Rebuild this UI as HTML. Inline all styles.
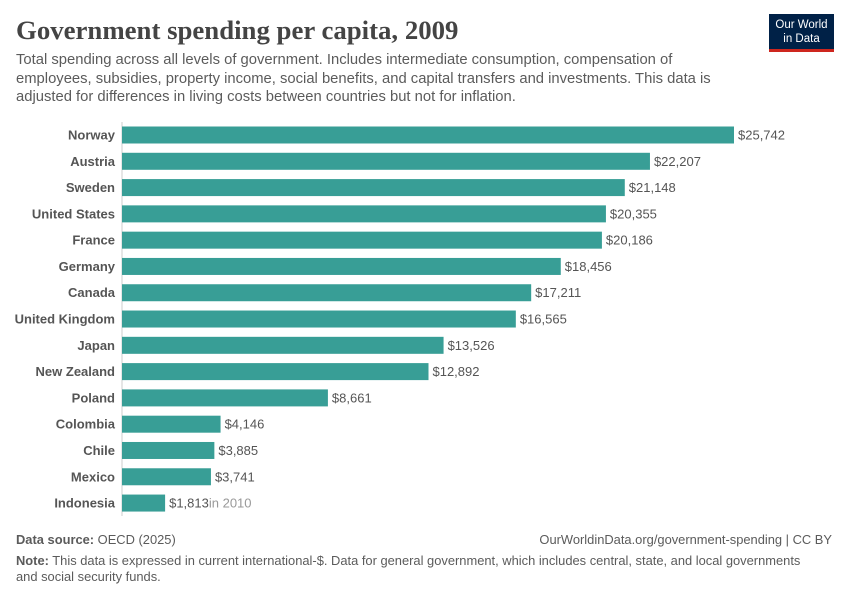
<!DOCTYPE html>
<html><head><meta charset="utf-8"><style>
body{margin:0;background:#fff;font-family:"Liberation Sans",sans-serif;}
#c{position:relative;width:850px;height:600px;overflow:hidden}
.t{position:absolute;white-space:nowrap}
</style></head><body>
<div id="c">
<div class="t" style="left:16px;top:15px;font-family:'Liberation Serif',serif;font-size:26.8px;font-weight:bold;color:#444">Government spending per capita, 2009</div>
<div class="t" style="left:16px;top:51px;font-size:14.8px;line-height:18.5px;color:#5b5b5b">Total spending across all levels of government. Includes intermediate consumption, compensation of<br>employees, subsidies, property income, social benefits, and capital transfers and investments. This data is<br>adjusted for differences in living costs between countries but not for inflation.</div>
<div style="position:absolute;left:769px;top:14px;width:65px;height:38px;background:#002147;border-bottom:3px solid #ce261e;box-sizing:border-box;color:#fff;font-size:11.5px;line-height:14px;text-align:center;padding-top:4px">Our World<br>in Data</div>
<svg id="s" width="850" height="600" style="position:absolute;left:0;top:0"></svg>
<div class="t" style="left:16px;top:532px;font-size:12.9px;color:#5b5b5b"><b>Data source:</b> OECD (2025)</div>
<div class="t" style="right:18px;top:532px;font-size:12.9px;color:#5b5b5b">OurWorldinData.org/government-spending | CC BY</div>
<div class="t" style="left:16px;top:553px;font-size:12.9px;line-height:16px;color:#5b5b5b"><b>Note:</b> This data is expressed in current international-$. Data for general government, which includes central, state, and local governments<br>and social security funds.</div>
</div>
<script>
const countries=["Norway","Austria","Sweden","United States","France","Germany","Canada","United Kingdom","Japan","New Zealand","Poland","Colombia","Chile","Mexico","Indonesia"];
const values=[25742,22207,21148,20355,20186,18456,17211,16565,13526,12892,8661,4146,3885,3741,1813];
const notes=["","","","","","","","","","","","","","","in 2010"];
const svg=document.getElementById('s');const NS='http://www.w3.org/2000/svg';
const x0=122,xs=v=>x0+v*612/25742,yc=i=>135+i*26.29;
function mk(t,a){const e=document.createElementNS(NS,t);for(const k in a)e.setAttribute(k,a[k]);svg.appendChild(e);return e;}
const ax=mk('line',{x1:x0,x2:x0,y1:122,y2:516,stroke:'#ccc'});


countries.forEach((c,i)=>{
 const y=yc(i);
 const r=mk('rect',{x:x0,y:y-8.5,width:xs(values[i])-x0,height:17,fill:'#389e96'});
 
 
 const l=mk('text',{x:x0-7,y:y+4.5,'text-anchor':'end','font-size':13,'font-weight':'bold',fill:'#555','font-family':'Liberation Sans,sans-serif'});
 l.textContent=c;
 
 
 const v=mk('text',{x:xs(values[i])+4,y:y+4.5,'font-size':13,fill:'#555','font-family':'Liberation Sans,sans-serif'});
 v.textContent='$'+values[i].toLocaleString('en-US');
 
 
 if(notes[i]){const s=document.createElementNS(NS,'tspan');s.setAttribute('fill','#999');s.textContent=notes[i];v.appendChild(s);}
});
</script>
</body></html>
